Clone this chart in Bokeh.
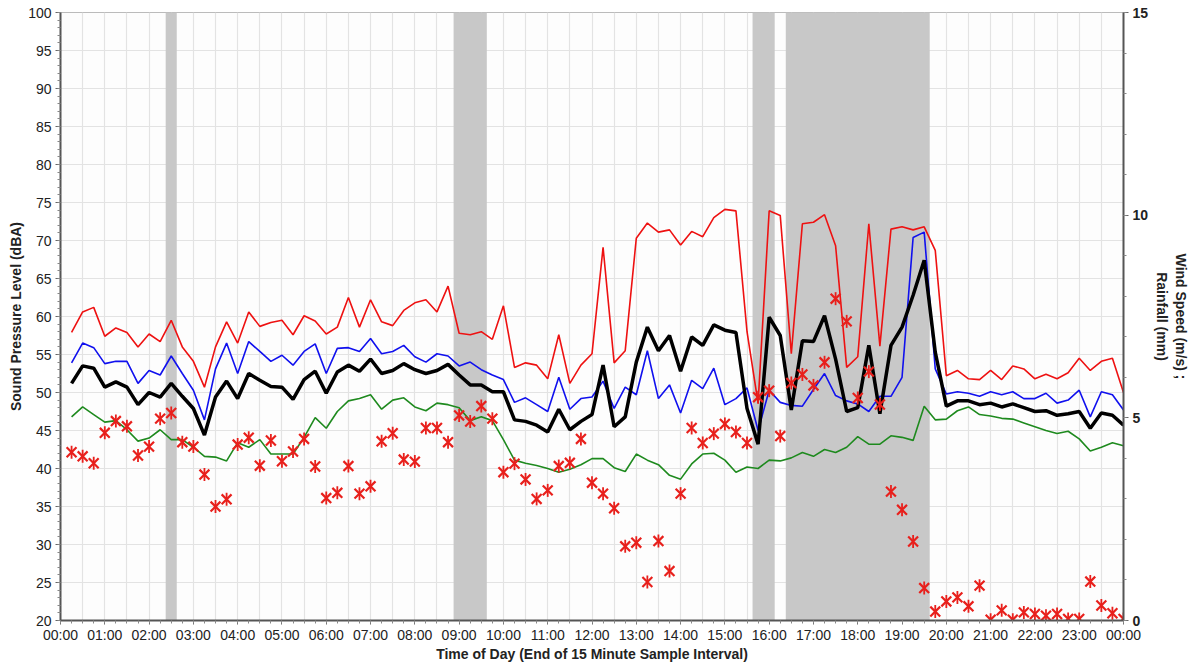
from bokeh.plotting import figure
from bokeh.models import Range1d, LinearAxis, FixedTicker
from bokeh.embed import file_html
from bokeh.resources import INLINE

# End of each 15-minute sample interval (hours)
interval_end_hours = [i * 0.25 for i in range(1, 97)]

# Red line (dBA)
l10_dba = [57.9, 60.6, 61.2, 57.4, 58.5, 57.9, 56.0, 57.7, 56.7, 59.5, 56.0, 54.1, 50.7, 56.0, 59.3, 56.5,
           60.6, 58.7, 59.2, 59.5, 57.6, 60.1, 59.4, 57.7, 58.6, 62.5, 58.6, 62.2, 59.3, 58.8, 60.8, 61.8,
           62.2, 60.6, 64.0, 57.8, 57.6, 58.0, 57.0, 61.4, 53.3, 53.9, 53.6, 51.8, 57.6, 51.2, 53.6, 55.1,
           69.1, 53.9, 55.5, 70.3, 72.3, 71.1, 71.4, 69.4, 71.2, 70.5, 73.0, 74.1, 73.9, 58.0, 48.6, 73.9,
           73.3, 55.1, 72.2, 72.4, 73.4, 69.3, 53.3, 54.7, 72.2, 56.1, 71.5, 71.8, 71.4, 71.8, 68.7, 52.2,
           52.9, 51.8, 51.7, 52.9, 51.7, 53.5, 53.1, 51.8, 52.4, 51.8, 52.6, 54.5, 52.9, 54.1, 54.5, 50.0]

# Blue line (dBA)
l50_dba = [53.9, 56.5, 55.9, 53.8, 54.1, 54.1, 51.2, 52.9, 52.3, 54.8, 52.5, 50.3, 46.4, 53.1, 56.5, 52.5,
           56.7, 55.4, 54.1, 54.9, 53.6, 55.4, 56.4, 52.5, 55.8, 55.9, 55.4, 57.1, 55.1, 55.4, 56.2, 54.7,
           54.0, 55.1, 54.8, 53.5, 54.0, 53.0, 52.3, 51.7, 48.7, 49.3, 48.4, 47.5, 52.0, 47.8, 49.2, 49.4,
           51.5, 47.9, 50.7, 49.7, 55.5, 49.2, 51.0, 47.3, 51.6, 50.5, 53.2, 48.4, 49.2, 50.6, 45.0, 50.3,
           48.7, 48.3, 48.2, 50.4, 52.5, 49.6, 48.9, 48.5, 47.5, 49.5, 49.5, 52.0, 70.4, 71.1, 53.1, 49.8,
           50.1, 49.9, 49.5, 50.1, 49.7, 50.1, 49.2, 49.2, 49.9, 48.6, 49.0, 50.3, 46.8, 50.1, 49.7, 47.7]

# Black thick line (dBA)
leq_dba = [51.2, 53.5, 53.2, 50.7, 51.4, 50.7, 48.4, 50.0, 49.4, 51.2, 49.5, 47.9, 44.4, 49.4, 51.5, 49.2,
           52.5, 51.6, 50.8, 50.7, 49.1, 51.7, 52.8, 49.9, 52.7, 53.6, 52.8, 54.4, 52.5, 52.9, 53.8, 53.0,
           52.5, 52.9, 53.7, 52.3, 51.0, 51.0, 50.1, 50.1, 46.4, 46.2, 45.7, 44.8, 47.8, 45.1, 46.2, 47.1,
           53.6, 45.5, 46.8, 54.0, 58.6, 55.5, 57.5, 52.8, 57.3, 56.2, 58.9, 58.2, 57.9, 47.9, 43.2, 59.9,
           57.5, 47.7, 56.8, 56.7, 60.1, 54.4, 47.5, 48.0, 56.2, 47.2, 56.2, 58.6, 62.8, 67.4, 55.3, 48.2,
           48.9, 48.9, 48.4, 48.6, 48.1, 48.5, 48.0, 47.5, 47.6, 47.0, 47.2, 47.5, 45.3, 47.3, 47.0, 45.7]

# Green line (dBA)
l90_dba = [46.8, 48.1, 47.1, 46.1, 46.3, 45.1, 43.6, 44.0, 45.1, 43.8, 43.8, 42.8, 41.6, 41.5, 41.0, 43.4,
           42.8, 43.8, 41.9, 41.9, 41.9, 44.1, 46.7, 45.3, 47.5, 48.9, 49.2, 49.7, 47.8, 49.0, 49.3, 48.1,
           47.6, 48.6, 48.4, 48.0, 46.3, 46.8, 46.3, 43.8, 41.1, 40.7, 40.4, 40.0, 39.5, 39.9, 40.5, 41.3,
           41.3, 40.1, 39.6, 41.9, 41.1, 40.5, 39.1, 38.6, 40.6, 41.9, 42.0, 41.1, 39.5, 40.2, 40.0, 41.1,
           41.0, 41.4, 42.1, 41.6, 42.5, 42.1, 42.8, 44.2, 43.2, 43.2, 44.3, 44.1, 43.7, 48.2, 46.4, 46.5,
           47.6, 48.1, 47.1, 46.9, 46.6, 46.5, 46.0, 45.5, 45.0, 44.6, 44.9, 43.9, 42.3, 42.8, 43.4, 43.0]

# Wind speed (m/s), right axis
wind_speed = [4.15, 4.05, 3.88, 4.63, 4.92, 4.79, 4.07, 4.29, 4.98, 5.12, 4.40, 4.29, 3.60, 2.81, 2.99, 4.34,
              4.51, 3.82, 4.44, 3.93, 4.17, 4.48, 3.80, 3.02, 3.15, 3.81, 3.13, 3.31, 4.42, 4.62, 3.97, 3.92,
              4.75, 4.75, 4.40, 5.06, 4.91, 5.29, 4.98, 3.66, 3.87, 3.48, 3.00, 3.21, 3.81, 3.89, 4.48, 3.40,
              3.13, 2.77, 1.83, 1.92, 0.95, 1.96, 1.22, 3.13, 4.75, 4.38, 4.61, 4.85, 4.65, 4.38, 5.51, 5.67,
              4.55, 5.86, 6.07, 5.80, 6.37, 7.94, 7.38, 5.49, 6.14, 5.33, 3.18, 2.73, 1.95, 0.80, 0.22, 0.47,
              0.57, 0.35, 0.86, 0.02, 0.25, 0.02, 0.20, 0.16, 0.12, 0.16, 0.04, 0.04, 0.96, 0.37, 0.18, 0.04]

# Intervals (end times, hours) flagged with rainfall
rain_interval_end = [2.5, 9.0, 9.25, 9.5, 15.75, 16.0,
                     16.5, 16.75, 17.0, 17.25, 17.5, 17.75, 18.0, 18.25, 18.5, 18.75, 19.0, 19.25, 19.5]

hour_ticks = list(range(25))
hour_labels = {h: "%02d:00" % (h % 24) for h in hour_ticks}

# merge consecutive rain intervals into continuous spans (each bar centred on its sample time)
rain_left, rain_right = [], []
for t in rain_interval_end:
    lo, hi = t - 0.125, t + 0.125
    if rain_right and abs(rain_right[-1] - lo) < 1e-9:
        rain_right[-1] = hi
    else:
        rain_left.append(lo)
        rain_right.append(hi)

FONT = "Liberation Sans"

p = figure(width=1192, height=664, x_range=Range1d(0, 24), y_range=Range1d(20, 100),
           output_backend="svg", toolbar_location=None,
           min_border_left=60, min_border_right=69, min_border_top=12, min_border_bottom=44)
p.background_fill_color = "#fdfdfd"
p.border_fill_color = "white"
p.outline_line_color = "#bbbbbb"
p.extra_y_ranges = {"wind": Range1d(0, 15)}

# grid
p.xgrid.ticker = FixedTicker(ticks=[i * 0.5 for i in range(49)])
p.ygrid.ticker = FixedTicker(ticks=list(range(20, 101, 5)))
p.xgrid.grid_line_color = "#e3e3e3"
p.ygrid.grid_line_color = "#e3e3e3"
p.xgrid.grid_line_width = 1.2
p.ygrid.grid_line_width = 1.2

# rain shading
p.quad(left=rain_left, right=rain_right, bottom=0, top=15, y_range_name="wind",
       fill_color="#c8c8c8", line_color=None)

# lines
p.line(interval_end_hours, l10_dba, line_color="#ee1111", line_width=1.6)
p.line(interval_end_hours, l50_dba, line_color="#1010ee", line_width=1.6)
p.line(interval_end_hours, l90_dba, line_color="#1e8a1e", line_width=1.6)
p.line(interval_end_hours, leq_dba, line_color="#000000", line_width=3.5)

# wind markers
p.scatter(interval_end_hours, wind_speed, y_range_name="wind", marker="x", size=14,
          line_color="#e8201c", line_width=2.2)
p.scatter(interval_end_hours, wind_speed, y_range_name="wind", marker="dash", angle=1.5708,
          size=13, line_color="#e8201c", line_width=1.8)

# axes
xa = p.xaxis[0]
xa.ticker = FixedTicker(ticks=hour_ticks, minor_ticks=[i * 0.25 for i in range(97)])
xa.major_label_overrides = hour_labels
xa.axis_label = "Time of Day (End of 15 Minute Sample Interval)"

ya = p.yaxis[0]
ya.ticker = FixedTicker(ticks=list(range(20, 101, 5)), minor_ticks=list(range(20, 101)))
ya.axis_label = "Sound Pressure Level (dBA)"

ra = LinearAxis(y_range_name="wind",
                ticker=FixedTicker(ticks=[0, 5, 10, 15], minor_ticks=list(range(16))),
                axis_label="Wind Speed (m/s) ;\nRainfall (mm)")
p.add_layout(ra, "right")

for ax in (xa, ya, ra):
    ax.axis_line_color = "#555555"
    ax.axis_line_width = 2
    ax.major_tick_line_color = "#666666"
    ax.minor_tick_line_color = "#888888"
    ax.major_tick_out = 5
    ax.major_tick_in = 0
    ax.minor_tick_out = 3
    ax.minor_tick_in = 0
    ax.major_label_text_font = FONT
    ax.major_label_text_font_size = "14px"
    ax.major_label_text_color = "#222222"
    ax.axis_label_text_font = FONT
    ax.axis_label_text_font_size = "14px"
    ax.axis_label_text_font_style = "bold"
    ax.axis_label_text_color = "#222222"
ya.major_label_standoff = 4
ya.axis_label_standoff = 1
ra.major_label_text_font_style = "bold"
ra.major_label_standoff = 4
ra.axis_label_standoff = 3
xa.major_tick_out = 4
xa.major_label_standoff = 2
xa.axis_label_standoff = 0

open("out.html", "w").write(file_html(p, INLINE))
